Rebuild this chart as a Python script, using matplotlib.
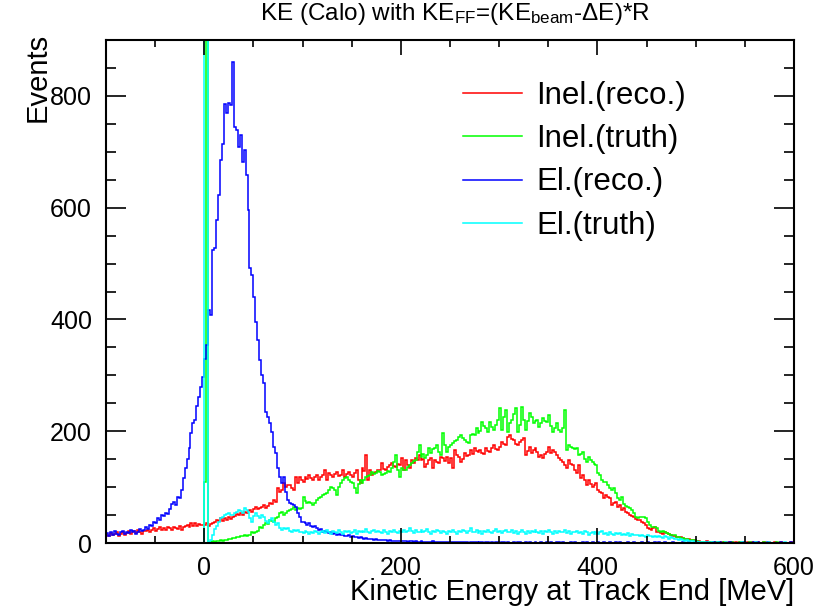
import numpy as np
import matplotlib
matplotlib.use("Agg")
import matplotlib.pyplot as plt
from matplotlib.ticker import MultipleLocator

plt.rcParams['font.family'] = ['Liberation Sans', 'DejaVu Sans']
plt.rcParams['mathtext.fontset'] = 'custom'
plt.rcParams['mathtext.rm'] = 'Liberation Sans'
plt.rcParams['mathtext.it'] = 'Liberation Sans:italic'

# binning: 2 MeV bins from -100 to 600 MeV
ke_lo, ke_hi, ke_step = -100, 600, 2
edges = np.arange(ke_lo, ke_hi + ke_step, ke_step)

# Inel.(reco.)  -- one row = 20 MeV
inel_reco = [
    15, 12, 18, 14, 16, 19, 13, 17, 20, 15,
    18, 22, 17, 19, 21, 18, 23, 20, 17, 22,
    21, 24, 20, 23, 26, 22, 25, 28, 23, 27,
    24, 28, 26, 23, 29, 27, 25, 30, 24, 28,
    30, 33, 29, 35, 31, 36, 30, 34, 32, 33,
    32, 35, 31, 34, 36, 38, 42, 39, 45, 40,
    44, 41, 47, 43, 46, 48, 52, 50, 54, 51,
    55, 53, 57, 59, 56, 60, 64, 61, 62, 65,
    68, 63, 66, 72, 70, 77, 74, 98, 92, 95,
    107, 100, 103, 104, 99, 95, 118, 107, 118, 113,
    110, 118, 115, 122, 116, 113, 118, 121, 113, 119,
    122, 130, 113, 125, 121, 118, 124, 127, 120, 122,
    130, 118, 124, 127, 122, 118, 126, 130, 112, 107,
    134, 128, 157, 113, 130, 122, 125, 127, 131, 130,
    143, 133, 130, 136, 140, 143, 138, 136, 141, 139,
    152, 130, 148, 140, 134, 148, 144, 152, 149, 157,
    148, 151, 136, 142, 148, 152, 134, 148, 145, 143,
    154, 152, 147, 154, 143, 152, 134, 166, 158, 154,
    145, 150, 161, 155, 157, 166, 160, 170, 165, 163,
    166, 161, 159, 170, 164, 163, 170, 175, 168, 166,
    172, 181, 178, 175, 190, 193, 186, 184, 178, 175,
    181, 185, 188, 157, 165, 172, 161, 166, 170, 162,
    154, 158, 152, 160, 163, 172, 161, 166, 163, 158,
    152, 149, 145, 140, 134, 148, 142, 139, 131, 125,
    139, 116, 122, 113, 104, 113, 106, 100, 103, 107,
    95, 91, 89, 80, 86, 82, 80, 68, 71, 73,
    64, 68, 59, 62, 55, 54, 50, 49, 47, 43,
    41, 41, 38, 35, 32, 27, 25, 23, 26, 29,
    20, 19, 18, 17, 20, 18, 16, 14, 13, 12,
    11, 10, 11, 9, 8, 7, 7, 6, 5, 5,
    4, 3, 2, 2, 2, 3, 2, 1, 2, 1,
    1, 2, 1, 0, 1, 1, 0, 1, 1, 0,
    1, 0, 1, 1, 0, 0, 1, 0, 1, 0,
    0, 1, 0, 0, 1, 0, 0, 1, 0, 0,
    1, 0, 0, 1, 0, 0, 0, 0, 1, 0,
]

# Inel.(truth)
inel_truth = [
    0, 0, 0, 0, 0, 0, 0, 0, 0, 0,
    0, 0, 0, 0, 0, 0, 0, 0, 0, 0,
    0, 0, 0, 0, 0, 0, 0, 0, 0, 0,
    0, 0, 0, 0, 0, 0, 0, 0, 0, 0,
    0, 0, 0, 0, 0, 0, 0, 0, 0, 0,
    110, 2000, 2, 1, 3, 2, 4, 3, 5, 4,
    6, 5, 8, 7, 9, 9, 11, 10, 13, 12,
    14, 12, 15, 14, 20, 18, 20, 22, 29, 27,
    32, 36, 34, 41, 39, 38, 45, 47, 54, 55,
    50, 54, 57, 59, 60, 64, 59, 63, 61, 62,
    82, 75, 71, 73, 71, 68, 72, 77, 80, 82,
    86, 88, 89, 95, 100, 98, 94, 86, 100, 107,
    113, 116, 118, 112, 109, 107, 98, 89, 105, 113,
    107, 112, 118, 120, 122, 127, 124, 125, 128, 127,
    122, 124, 125, 129, 127, 134, 145, 157, 130, 118,
    134, 131, 130, 136, 139, 143, 146, 148, 162, 175,
    154, 160, 152, 158, 170, 161, 168, 170, 175, 163,
    157, 197, 175, 163, 172, 175, 179, 182, 184, 190,
    193, 188, 184, 181, 179, 193, 195, 193, 205, 197,
    201, 216, 210, 205, 199, 216, 208, 202, 212, 220,
    241, 202, 225, 238, 199, 214, 220, 230, 241, 199,
    212, 243, 220, 202, 218, 232, 225, 214, 218, 220,
    207, 215, 223, 219, 216, 229, 210, 199, 206, 214,
    202, 199, 206, 238, 166, 175, 172, 170, 168, 170,
    157, 160, 163, 150, 145, 154, 148, 145, 141, 139,
    126, 122, 113, 110, 109, 103, 98, 95, 98, 89,
    80, 77, 82, 70, 66, 64, 62, 59, 53, 47,
    45, 46, 47, 46, 45, 38, 33, 29, 29, 28,
    27, 22, 20, 21, 20, 18, 16, 14, 14, 14,
    11, 10, 9, 9, 8, 7, 6, 6, 5, 5,
    3, 2, 2, 1, 1, 1, 0, 1, 0, 1,
    0, 1, 0, 0, 1, 0, 0, 0, 1, 0,
    0, 0, 1, 0, 0, 0, 0, 1, 0, 0,
    0, 0, 0, 0, 1, 0, 0, 0, 0, 0,
    0, 1, 0, 0, 0, 0, 0, 0, 0, 0,
]

# El.(reco.)
el_reco = [
    18, 12, 20, 15, 22, 17, 14, 19, 21, 16,
    20, 18, 24, 19, 22, 17, 20, 25, 21, 23,
    28, 25, 32, 30, 38, 35, 45, 42, 50, 48,
    54, 52, 60, 70, 73, 68, 82, 80, 95, 116,
    134, 150, 170, 197, 215, 220, 245, 261, 280, 297,
    330, 354, 417, 408, 524, 527, 578, 622, 685, 714,
    785, 769, 787, 783, 860, 744, 739, 709, 730, 681,
    703, 658, 595, 492, 479, 440, 395, 363, 327, 300,
    286, 234, 225, 215, 199, 172, 161, 134, 118, 107,
    118, 92, 77, 72, 70, 68, 64, 54, 47, 38,
    38, 36, 32, 35, 30, 29, 31, 27, 23, 25,
    20, 22, 19, 18, 20, 17, 18, 15, 16, 14,
    14, 13, 12, 14, 11, 12, 10, 11, 9, 10,
    9, 8, 9, 7, 8, 7, 6, 7, 6, 5,
    6, 5, 5, 4, 5, 4, 4, 3, 4, 3,
    3, 4, 3, 2, 3, 3, 2, 3, 2, 2,
    3, 2, 2, 1, 2, 2, 3, 1, 2, 2,
    2, 1, 2, 1, 1, 2, 1, 2, 1, 1,
    1, 2, 1, 1, 0, 1, 1, 2, 1, 0,
    1, 1, 0, 1, 1, 0, 1, 0, 1, 1,
    0, 1, 1, 0, 1, 0, 0, 1, 0, 1,
    1, 0, 0, 1, 0, 1, 0, 0, 1, 0,
    0, 1, 0, 0, 1, 0, 1, 0, 0, 1,
    1, 0, 1, 0, 0, 0, 1, 0, 1, 0,
    0, 0, 1, 0, 1, 0, 0, 1, 0, 0,
    1, 0, 0, 1, 0, 0, 1, 0, 0, 1,
    0, 1, 0, 0, 0, 1, 0, 0, 1, 0,
    0, 0, 1, 0, 0, 1, 0, 0, 0, 1,
    0, 1, 0, 0, 1, 0, 0, 0, 1, 0,
    0, 0, 0, 1, 0, 0, 1, 0, 0, 0,
    1, 0, 0, 0, 0, 1, 0, 0, 0, 1,
    0, 0, 1, 0, 0, 0, 0, 1, 0, 0,
    0, 0, 0, 0, 1, 0, 0, 0, 0, 1,
    0, 1, 0, 0, 0, 0, 1, 0, 0, 0,
    0, 0, 0, 1, 0, 0, 0, 0, 1, 0,
]

# El.(truth)
el_truth = [
    0, 0, 0, 0, 0, 0, 0, 0, 0, 0,
    0, 0, 0, 0, 0, 0, 0, 0, 0, 0,
    0, 0, 0, 0, 0, 0, 0, 0, 0, 0,
    0, 0, 0, 0, 0, 0, 0, 0, 0, 0,
    0, 0, 0, 0, 0, 0, 0, 0, 0, 0,
    2000, 2000, 1, 6, 14, 25, 30, 38, 44, 47,
    50, 52, 54, 51, 50, 54, 56, 59, 57, 54,
    63, 59, 55, 45, 38, 48, 54, 49, 45, 50,
    47, 40, 36, 42, 45, 38, 32, 35, 26, 23,
    27, 25, 27, 22, 20, 23, 21, 23, 20, 19,
    18, 21, 19, 17, 20, 18, 22, 19, 16, 20,
    21, 18, 23, 19, 17, 22, 20, 18, 24, 19,
    17, 21, 19, 22, 18, 20, 23, 17, 21, 19,
    22, 19, 25, 20, 18, 21, 24, 19, 22, 20,
    18, 23, 20, 17, 21, 19, 24, 20, 18, 22,
    20, 24, 19, 22, 26, 21, 18, 23, 20, 19,
    23, 19, 21, 25, 20, 17, 22, 19, 24, 21,
    18, 22, 20, 16, 21, 19, 23, 20, 17, 21,
    19, 24, 21, 18, 22, 27, 20, 19, 23, 18,
    21, 17, 22, 19, 24, 20, 18, 22, 25, 19,
    22, 18, 21, 23, 19, 20, 24, 18, 21, 17,
    20, 23, 19, 16, 22, 18, 21, 19, 24, 20,
    18, 21, 17, 22, 19, 23, 20, 17, 21, 18,
    22, 19, 20, 24, 18, 21, 17, 20, 19, 22,
    18, 20, 17, 21, 19, 15, 18, 20, 16, 19,
    17, 19, 21, 16, 18, 15, 19, 17, 14, 18,
    16, 18, 14, 17, 15, 18, 13, 16, 14, 15,
    14, 12, 15, 13, 11, 14, 12, 13, 10, 12,
    11, 13, 10, 9, 12, 10, 8, 11, 9, 8,
    7, 6, 7, 5, 4, 5, 3, 4, 3, 2,
    2, 1, 2, 1, 1, 0, 1, 0, 1, 0,
    0, 1, 0, 0, 0, 1, 0, 0, 0, 0,
    0, 0, 0, 1, 0, 0, 0, 0, 0, 0,
    1, 0, 0, 0, 0, 0, 0, 1, 0, 0,
    0, 0, 0, 0, 0, 1, 0, 0, 0, 0,
]

labels = ['Inel.(reco.)', 'Inel.(truth)', 'El.(reco.)', 'El.(truth)']
colors = ['#ff0000', '#00ff00', '#0000ff', '#00ffff']

fig = plt.figure(figsize=(8.39, 6.07), dpi=100)
ax = fig.add_axes([0.1263, 0.1054, 0.8201, 0.8287])

for vals, col, lab in zip([inel_reco, inel_truth, el_reco, el_truth], colors, labels):
    ax.stairs(vals, edges, color=col, lw=1.1, label=lab, baseline=None)

ax.set_xlim(ke_lo, ke_hi)
ax.set_ylim(0, 900)
ax.xaxis.set_major_locator(MultipleLocator(200))
ax.xaxis.set_minor_locator(MultipleLocator(50))
ax.yaxis.set_major_locator(MultipleLocator(200))
ax.yaxis.set_minor_locator(MultipleLocator(50))
ax.tick_params(which='both', direction='in', top=True, right=True, labelsize=18, width=1.2)
ax.tick_params(axis='y', which='major', length=14.4, pad=10)
ax.tick_params(axis='y', which='minor', length=7.2)
ax.tick_params(axis='x', which='major', length=10.8, pad=9)
ax.tick_params(axis='x', which='minor', length=5.2)
for sp in ax.spines.values():
    sp.set_linewidth(1.5)

ax.set_xlabel('Kinetic Energy at Track End [MeV]', fontsize=21, loc='right')
ax.xaxis.set_label_coords(1.0, -0.07)
ax.set_ylabel('Events', fontsize=21, loc='top')
ax.yaxis.set_label_coords(-0.079, 1.014)

fig.text(0.542, 0.977, 'KE (Calo) with KE$_{\\rm FF}$=(KE$_{\\rm beam}$-\u0394E)*R',
         fontsize=17.5, ha='center', va='center')

ax.legend(loc='upper left', bbox_to_anchor=(0.519, 0.918), frameon=False, fontsize=22.5,
          handlelength=1.9, handletextpad=0.45, labelspacing=0.42,
          borderpad=0, borderaxespad=0)

fig.savefig('out.png', dpi=100)
